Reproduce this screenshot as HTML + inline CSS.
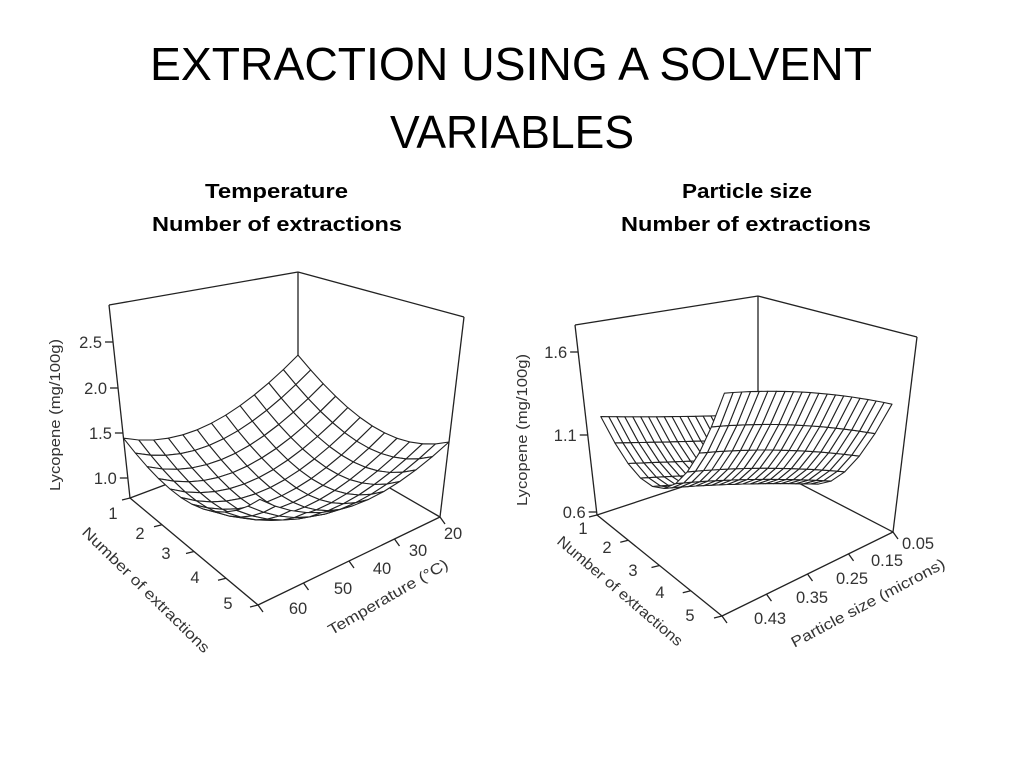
<!DOCTYPE html>
<html><head><meta charset="utf-8"><style>
html,body{margin:0;padding:0;background:#fff;}
svg{display:block;}
text{font-family:"Liberation Sans",Arial,sans-serif;}
</style></head><body>
<svg id="s" width="1024" height="768" viewBox="0 0 1024 768" xmlns="http://www.w3.org/2000/svg">
<rect width="1024" height="768" fill="#fff"/>
<text x="150" y="80" font-size="46" textLength="722" lengthAdjust="spacingAndGlyphs" fill="#000">EXTRACTION USING A SOLVENT</text>
<text x="390" y="148" font-size="46" textLength="244" lengthAdjust="spacingAndGlyphs" fill="#000">VARIABLES</text>
<g font-weight="bold" font-size="20" fill="#000">
<text x="205" y="198" textLength="143" lengthAdjust="spacingAndGlyphs">Temperature</text>
<text x="152" y="231" textLength="250" lengthAdjust="spacingAndGlyphs">Number of extractions</text>
<text x="682" y="198" textLength="130" lengthAdjust="spacingAndGlyphs">Particle size</text>
<text x="621" y="231" textLength="250" lengthAdjust="spacingAndGlyphs">Number of extractions</text>
</g>
<g id="c1"></g>
<g id="c2"></g>
</svg>
<script>
var NS="http://www.w3.org/2000/svg";
function el(p,tag,at,txt){var e=document.createElementNS(NS,tag);for(var k in at)e.setAttribute(k,at[k]);if(txt!==undefined)e.textContent=txt;p.appendChild(e);return e;}
function lerp(a,b,u){return [a[0]+(b[0]-a[0])*u,a[1]+(b[1]-a[1])*u];}
function bil(c,s,t){var a=lerp(c.L,c.F,s), b=lerp(c.B,c.R,s); return lerp(a,b,t);}
function chart(g,cfg){
  var fl=cfg.floor, tp=cfg.top, ins=cfg.inset||0;
  function P(s,t,z){s=ins+(1-2*ins)*s;t=ins+(1-2*ins)*t;var f=bil(fl,s,t),h=bil(tp,s,t);return [f[0]+(h[0]-f[0])*z,f[1]+(h[1]-f[1])*z];}
  function line(a,b,w){el(g,"line",{x1:a[0],y1:a[1],x2:b[0],y2:b[1],stroke:"#222","stroke-width":w||1.3});}
  line(fl.L,tp.L);line(fl.R,tp.R);line(fl.B,tp.B);
  line(tp.L,tp.B);line(tp.B,tp.R);
  line(fl.L,fl.B);line(fl.B,fl.R);
  var Ns=cfg.Ns,Nt=cfg.Nt,q=[];
  for(var i=0;i<Ns;i++)for(var j=0;j<Nt;j++){q.push([i,j,(i+0.5)/Ns+1-(j+0.5)/Nt]);}
  q.sort(function(a,b){return a[2]-b[2];});
  q.forEach(function(k){var i=k[0],j=k[1],pts=[[i,j],[i+1,j],[i+1,j+1],[i,j+1]].map(function(p){var s=p[0]/Ns,t=p[1]/Nt;var r=P(s,t,cfg.z(s,t));return r[0].toFixed(1)+","+r[1].toFixed(1);});
    el(g,"polygon",{points:pts.join(" "),fill:"#fff",stroke:"#222","stroke-width":"1.1","stroke-linejoin":"round"});});
  line(fl.L,fl.F);line(fl.F,fl.R);
  var fs=16.5;
  cfg.yt.forEach(function(y){var u=(fl.L[1]-y[1])/(fl.L[1]-tp.L[1]);var x0=fl.L[0]+(tp.L[0]-fl.L[0])*u;line([x0,y[1]],[x0-8,y[1]]);el(g,"text",{x:x0-11,y:y[1]+6,"font-size":fs,"text-anchor":"end",fill:"#333"},y[0]);});
  cfg.st.forEach(function(k){var p=lerp(fl.L,fl.F,k[1]);line(p,[p[0]-8,p[1]+2]);el(g,"text",{x:k[2][0],y:k[2][1]+6,"font-size":fs,"text-anchor":"middle",fill:"#333"},k[0]);});
  cfg.tt.forEach(function(k){var p=lerp(fl.F,fl.R,k[1]);line(p,[p[0]+5,p[1]+7]);el(g,"text",{x:k[2][0],y:k[2][1]+6,"font-size":fs,"text-anchor":"middle",fill:"#333"},k[0]);});
  cfg.titles.forEach(function(t){el(g,"text",{x:0,y:5,"font-size":15,"text-anchor":"middle",fill:"#333",textLength:t[4],lengthAdjust:"spacingAndGlyphs",transform:"translate("+t[1]+","+t[2]+") rotate("+t[3]+")"},t[0]);});
}
chart(document.getElementById("c1"),{
  Ns:12,Nt:12,
  floor:{L:[130,498],F:[258,605],R:[440,517],B:[298,435]},
  top:{L:[109,305],F:[262,365],R:[464,317],B:[298,272]},
  z:function(s,t){return 0.09+0.6275*(s-.5)*(s-.5)+0.6275*(t-.5)*(t-.5)-0.245*(s-.5)*(t-.5)+0.0325*(s+t-1)+0.025*(t-s);},
  yt:[["2.5",342],["2.0",388],["1.5",433],["1.0",478]],
  st:[["1",0,[113,513]],["2",.25,[140,533]],["3",.5,[166,553]],["4",.75,[195,577]],["5",1,[228,603]]],
  tt:[["60",0,[298,608]],["50",.25,[343,588]],["40",.5,[382,568]],["30",.75,[418,550]],["20",1,[453,533]]],
  titles:[["Lycopene (mg/100g)",55,415,-90,152],["Number of extractions",146,590,44.5,172],["Temperature (\u00B0C)",388,597,-30,136]]
});
chart(document.getElementById("c2"),{
  Ns:10,Nt:20,inset:0.05,
  floor:{L:[597,515],F:[722,616],R:[893,532],B:[758,462]},
  top:{L:[575,325],F:[722,400],R:[917,337],B:[758,296]},
  z:function(s,t){var a=.53-.21*t, c=1.0-.34*t+.15*t*(1-t);return (1-s)*a+s*c-1.6*s*(1-s);},
  yt:[["1.6",352],["1.1",435],["0.6",512]],
  st:[["1",0,[583,528]],["2",.25,[607,547]],["3",.5,[633,570]],["4",.75,[660,592]],["5",1,[690,615]]],
  tt:[["0.43",0,[770,618]],["0.35",.26,[812,597]],["0.25",.5,[852,578]],["0.15",.74,[887,560]],["0.05",1,[918,543]]],
  titles:[["Lycopene (mg/100g)",522,430,-90,152],["Number of extractions",620,591,40.6,160],["Particle size (microns)",868,603,-28,172]]
});
</script>
</body></html>
